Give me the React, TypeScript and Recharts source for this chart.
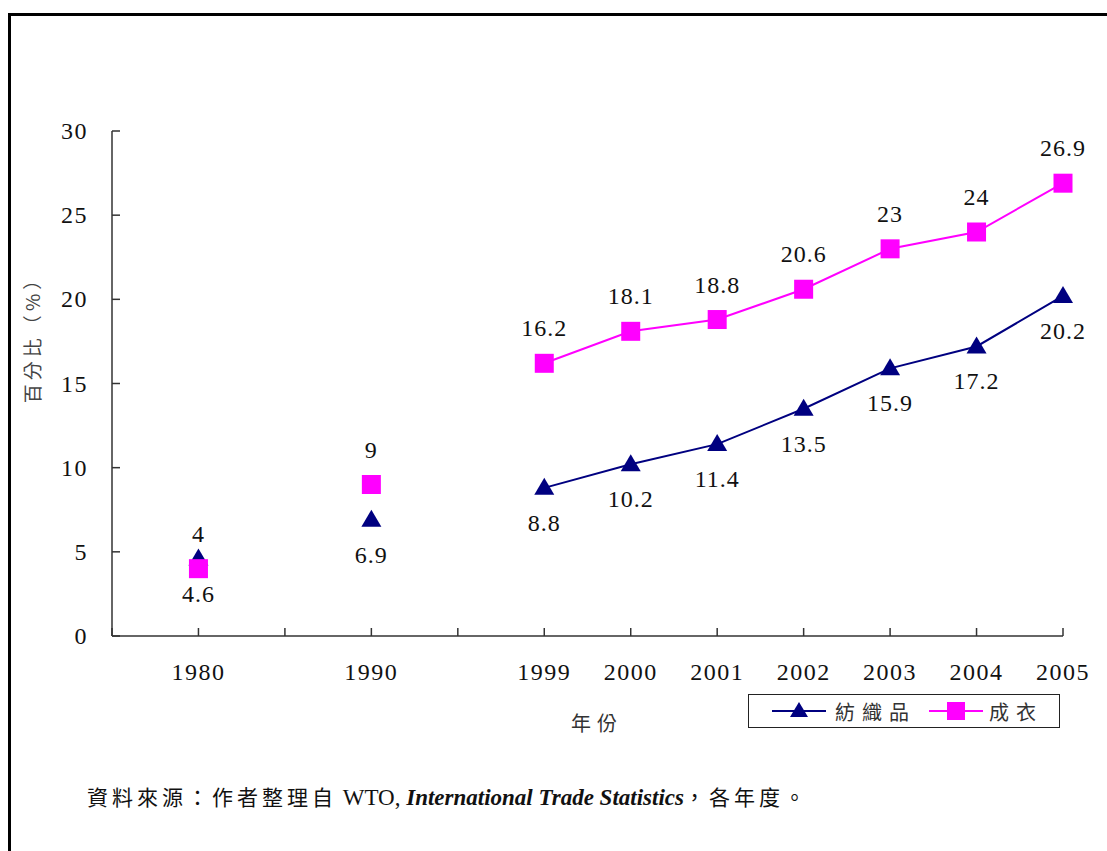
import React from 'react';
import { LineChart, Line, XAxis, YAxis } from 'recharts';

const yearLabels = ['', '1980', '', '1990', '', '1999', '2000', '2001', '2002', '2003', '2004', '2005'];
const textileValues: (number | null)[] = [null, 4.6, null, 6.9, null, 8.8, 10.2, 11.4, 13.5, 15.9, 17.2, 20.2];
const apparelValues: (number | null)[] = [null, 4, null, 9, null, 16.2, 18.1, 18.8, 20.6, 23, 24, 26.9];
const yTicks = [0, 5, 10, 15, 20, 25, 30];
const seriesNames = ['紡織品', '成衣'];
const yAxisTitle = '百分比（%）';
const xAxisTitle = '年份';

const TEXTILE_COLOR = '#000080';
const APPAREL_COLOR = '#FF00FF';
const NUM_FONT = "'Liberation Serif', 'Times New Roman', serif";
const CJK_FONT = "'Noto Sans CJK TC', 'Noto Sans CJK SC', sans-serif";

const numStyle = { fontFamily: NUM_FONT, fontSize: 24, letterSpacing: 1.5 };

const data = yearLabels.map((year, i) => ({
  i,
  year,
  textile: textileValues[i],
  apparel: apparelValues[i],
}));

const TriangleDot = (props: any) => {
  const { cx, cy, value } = props;
  if (cx == null || cy == null || value == null) return <g />;
  return (
    <path
      d={`M${cx},${cy - 10} L${cx + 10},${cy + 7} L${cx - 10},${cy + 7} Z`}
      fill={TEXTILE_COLOR}
    />
  );
};

const SquareDot = (props: any) => {
  const { cx, cy, value } = props;
  if (cx == null || cy == null || value == null) return <g />;
  return <rect x={cx - 9.5} y={cy - 9.5} width={19} height={19} fill={APPAREL_COLOR} />;
};

const makeLabel = (dy: number) => (props: any) => {
  const { x, y, value } = props;
  if (value == null || x == null || y == null) return null;
  return (
    <text
      x={x}
      y={y + dy}
      textAnchor="middle"
      dominantBaseline="central"
      style={{ ...numStyle, letterSpacing: 1 }}
      fill="#111"
    >
      {value}
    </text>
  );
};

const XTick = (props: any) => {
  const { x, y, payload } = props;
  return (
    <g>
      <line x1={x} y1={y} x2={x} y2={y - 8} stroke="#333" strokeWidth={1.5} />
      <text
        x={x}
        y={y + 36}
        textAnchor="middle"
        dominantBaseline="central"
        style={numStyle}
        fill="#111"
      >
        {yearLabels[payload.value]}
      </text>
    </g>
  );
};

const YTick = (props: any) => {
  const { x, y, payload } = props;
  return (
    <g>
      <line x1={x} y1={y} x2={x + 8} y2={y} stroke="#333" strokeWidth={1.5} />
      <text
        x={x - 24}
        y={y}
        textAnchor="end"
        dominantBaseline="central"
        style={numStyle}
        fill="#111"
      >
        {payload.value}
      </text>
    </g>
  );
};

export default function App() {
  return (
    <div
      style={{
        position: 'absolute',
        left: 0,
        top: 0,
        width: 1107,
        height: 851,
        background: '#fff',
        overflow: 'hidden',
      }}
    >
      <div
        style={{
          position: 'absolute',
          left: 8,
          top: 13,
          width: 1110,
          height: 850,
          borderTop: '3px solid #000',
          borderLeft: '3px solid #000',
        }}
      />
      <div style={{ position: 'absolute', left: 0, top: 0 }}>
        <LineChart
          width={1107}
          height={851}
          data={data}
          margin={{ top: 131, right: 44, left: 52, bottom: 185 }}
        >
          <XAxis
            dataKey="i"
            type="number"
            domain={[0, 11]}
            ticks={yearLabels.map((_, i) => i)}
            tick={<XTick />}
            tickLine={false}
            tickSize={0}
            tickMargin={0}
            axisLine={{ stroke: '#333', strokeWidth: 1.5 }}
            height={30}
            interval={0}
          />
          <YAxis
            type="number"
            domain={[0, 30]}
            ticks={yTicks}
            tick={<YTick />}
            tickLine={false}
            tickSize={0}
            tickMargin={0}
            axisLine={{ stroke: '#333', strokeWidth: 1.5 }}
            width={60}
            interval={0}
          />
          <Line
            dataKey="textile"
            name={seriesNames[0]}
            stroke={TEXTILE_COLOR}
            strokeWidth={2}
            dot={<TriangleDot />}
            activeDot={false}
            label={makeLabel(35)}
            isAnimationActive={false}
            connectNulls={false}
          />
          <Line
            dataKey="apparel"
            name={seriesNames[1]}
            stroke={APPAREL_COLOR}
            strokeWidth={2}
            dot={<SquareDot />}
            activeDot={false}
            label={makeLabel(-35)}
            isAnimationActive={false}
            connectNulls={false}
          />
        </LineChart>
      </div>
      <div
        style={{
          position: 'absolute',
          left: 31,
          top: 335,
          transform: 'translate(-50%, -50%) rotate(-90deg)',
          whiteSpace: 'nowrap',
          fontFamily: CJK_FONT,
          fontSize: 19,
          letterSpacing: 4,
          color: '#444',
        }}
      >
        {yAxisTitle}
      </div>
      <div
        style={{
          position: 'absolute',
          left: 597,
          top: 722,
          transform: 'translate(-50%, -50%)',
          whiteSpace: 'nowrap',
          fontFamily: CJK_FONT,
          fontSize: 20,
          letterSpacing: 6,
          color: '#333',
        }}
      >
        {xAxisTitle}
      </div>
      <div
        style={{
          position: 'absolute',
          left: 748,
          top: 694,
          width: 312,
          height: 34,
          border: '1.5px solid #222',
          boxSizing: 'border-box',
          display: 'flex',
          alignItems: 'center',
          fontFamily: CJK_FONT,
          fontSize: 20,
          color: '#333',
        }}
      >
        <svg width={54} height={20} style={{ marginLeft: 23 }}>
          <line x1={0} y1={10} x2={54} y2={10} stroke={TEXTILE_COLOR} strokeWidth={2} />
          <path d="M27,1 L36,16 L18,16 Z" fill={TEXTILE_COLOR} />
        </svg>
        <span style={{ marginLeft: 9, letterSpacing: 7 }}>{seriesNames[0]}</span>
        <svg width={54} height={20} style={{ marginLeft: 13 }}>
          <line x1={0} y1={10} x2={54} y2={10} stroke={APPAREL_COLOR} strokeWidth={2} />
          <rect x={18} y={1} width={18} height={18} fill={APPAREL_COLOR} />
        </svg>
        <span style={{ marginLeft: 6, letterSpacing: 7 }}>{seriesNames[1]}</span>
      </div>
      <div
        style={{
          position: 'absolute',
          left: 87,
          top: 796,
          transform: 'translateY(-50%)',
          whiteSpace: 'nowrap',
          fontSize: 21,
          color: '#111',
        }}
      >
        <span style={{ fontFamily: CJK_FONT, letterSpacing: 4 }}>資料來源：作者整理自</span>
        <span style={{ fontFamily: NUM_FONT, fontSize: 23 }}> WTO, </span>
        <span style={{ fontFamily: NUM_FONT, fontSize: 23, fontWeight: 'bold', fontStyle: 'italic' }}>
          International Trade Statistics
        </span>
        <span style={{ fontFamily: CJK_FONT, letterSpacing: 4 }}>，各年度。</span>
      </div>
    </div>
  );
}
